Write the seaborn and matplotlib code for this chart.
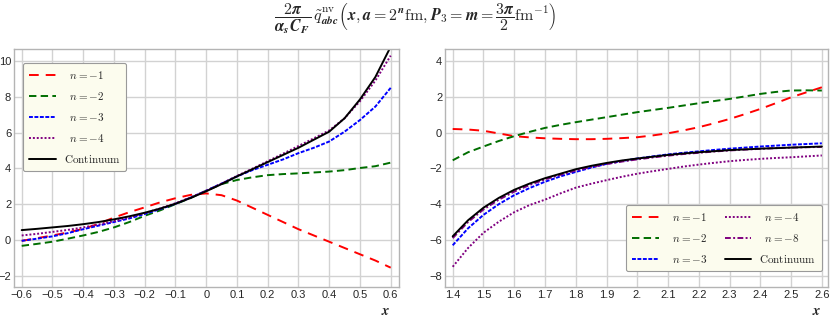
import numpy as np
import pandas as pd
import matplotlib
matplotlib.use("Agg")
import matplotlib.pyplot as plt
import seaborn as sns
from matplotlib.ticker import FuncFormatter

# --- data ---
x_left = [-0.6, -0.55, -0.5, -0.45, -0.4, -0.35, -0.3, -0.25, -0.2, -0.15, -0.1, -0.05,
          0.0, 0.05, 0.1, 0.15, 0.2, 0.25, 0.3, 0.35, 0.4, 0.45, 0.5, 0.55, 0.6]
left_n1 = [-0.05, 0.1, 0.25, 0.42, 0.62, 0.9, 1.25, 1.55, 1.82, 2.1, 2.33, 2.52,
           2.6, 2.5, 2.2, 1.8, 1.4, 1.0, 0.6, 0.25, -0.1, -0.45, -0.8, -1.15, -1.55]
left_n2 = [-0.33, -0.22, -0.1, 0.07, 0.25, 0.45, 0.7, 1.0, 1.35, 1.65, 2.0, 2.35,
           2.75, 3.12, 3.35, 3.5, 3.62, 3.68, 3.72, 3.77, 3.82, 3.9, 4.02, 4.12, 4.32]
left_n3 = [-0.05, 0.07, 0.2, 0.38, 0.6, 0.8, 1.0, 1.2, 1.45, 1.72, 2.02, 2.37,
           2.75, 3.15, 3.55, 3.9, 4.2, 4.5, 4.85, 5.15, 5.5, 6.05, 6.7, 7.45, 8.5]
left_n4 = [0.25, 0.34, 0.45, 0.56, 0.7, 0.86, 1.05, 1.26, 1.5, 1.76, 2.05, 2.38,
           2.75, 3.15, 3.58, 3.98, 4.4, 4.82, 5.25, 5.68, 6.12, 6.8, 7.75, 8.9, 10.3]
left_cont = [0.55, 0.62, 0.7, 0.78, 0.88, 1.0, 1.15, 1.32, 1.52, 1.75, 2.02, 2.35,
             2.72, 3.12, 3.55, 3.95, 4.35, 4.75, 5.15, 5.6, 6.05, 6.8, 7.85, 9.1, 10.8]

x_right = [1.4, 1.45, 1.5, 1.55, 1.6, 1.65, 1.7, 1.75, 1.8, 1.85, 1.9, 1.95, 2.0,
           2.05, 2.1, 2.15, 2.2, 2.25, 2.3, 2.35, 2.4, 2.45, 2.5, 2.55, 2.6]
right_n1 = [0.2, 0.17, 0.1, -0.05, -0.2, -0.27, -0.32, -0.35, -0.37, -0.37, -0.35, -0.31, -0.26,
            -0.16, -0.04, 0.12, 0.3, 0.52, 0.76, 1.03, 1.32, 1.64, 1.97, 2.25, 2.53]
right_n2 = [-1.55, -1.1, -0.78, -0.47, -0.2, 0.04, 0.26, 0.43, 0.58, 0.72, 0.86, 1.0, 1.14,
            1.26, 1.38, 1.51, 1.64, 1.76, 1.88, 2.02, 2.16, 2.27, 2.35, 2.36, 2.35]
right_n3 = [-6.3, -5.35, -4.6, -4.0, -3.5, -3.1, -2.75, -2.45, -2.2, -1.96, -1.75, -1.59, -1.45,
            -1.33, -1.22, -1.13, -1.05, -0.97, -0.9, -0.84, -0.78, -0.73, -0.68, -0.64, -0.6]
right_n4 = [-7.5, -6.45, -5.6, -4.98, -4.45, -4.05, -3.75, -3.4, -3.08, -2.86, -2.66, -2.47, -2.3,
            -2.16, -2.03, -1.9, -1.79, -1.69, -1.6, -1.53, -1.47, -1.42, -1.38, -1.33, -1.28]
right_n8 = [-5.9, -5.0, -4.3, -3.75, -3.3, -2.93, -2.62, -2.36, -2.12, -1.92, -1.76, -1.62, -1.5,
            -1.39, -1.29, -1.2, -1.13, -1.06, -1.0, -0.95, -0.91, -0.87, -0.84, -0.82, -0.8]
right_cont = [-5.8, -4.9, -4.2, -3.65, -3.2, -2.85, -2.55, -2.3, -2.05, -1.86, -1.7, -1.56, -1.45,
              -1.35, -1.25, -1.17, -1.1, -1.04, -0.98, -0.94, -0.9, -0.87, -0.84, -0.81, -0.78]

left_ticks = [-0.6, -0.5, -0.4, -0.3, -0.2, -0.1, 0.0, 0.1, 0.2, 0.3, 0.4, 0.5, 0.6]
right_ticks = [1.4, 1.5, 1.6, 1.7, 1.8, 1.9, 2.0, 2.1, 2.2, 2.3, 2.4, 2.5, 2.6]

sns.set_style("whitegrid")
plt.rcParams['font.family'] = ['Liberation Sans', 'DejaVu Sans']
plt.rcParams['mathtext.fontset'] = 'cm'

fig = plt.figure(figsize=(8.3, 3.2), dpi=100)
ax1 = fig.add_axes([14 / 830, 33 / 320, 385 / 830, 238 / 320])
ax2 = fig.add_axes([445 / 830, 33 / 320, 383 / 830, 238 / 320])

styles = {
    'n1': dict(color='#ff0000', linestyle=(0, (5, 3.6))),
    'n2': dict(color='#006e00', linestyle=(0, (3.8, 2.2))),
    'n3': dict(color='#0000ff', linestyle=(0, (2, 0.8))),
    'n4': dict(color='#800080', linestyle=(0, (1, 1))),
    'n8': dict(color='#800080', linestyle=(0, (3, 1.2, 1, 1.2))),
    'cont': dict(color='black', linestyle='-'),
}
lw = 1.4
pad = r'\;\;'

sns.lineplot(x=x_left, y=left_n1, ax=ax1, lw=lw, label=rf'${pad}n=-1$', **styles['n1'])
sns.lineplot(x=x_left, y=left_n2, ax=ax1, lw=lw, label=rf'${pad}n=-2$', **styles['n2'])
sns.lineplot(x=x_left, y=left_n3, ax=ax1, lw=lw, label=rf'${pad}n=-3$', **styles['n3'])
sns.lineplot(x=x_left, y=left_n4, ax=ax1, lw=lw, label=rf'${pad}n=-4$', **styles['n4'])
sns.lineplot(x=x_left, y=left_cont, ax=ax1, lw=lw, label=r'$\mathrm{Continuum}$', **styles['cont'])

sns.lineplot(x=x_right, y=right_n1, ax=ax2, lw=lw, label=rf'${pad}n=-1$', **styles['n1'])
sns.lineplot(x=x_right, y=right_n2, ax=ax2, lw=lw, label=rf'${pad}n=-2$', **styles['n2'])
sns.lineplot(x=x_right, y=right_n3, ax=ax2, lw=lw, label=rf'${pad}n=-3$', **styles['n3'])
sns.lineplot(x=x_right, y=right_n4, ax=ax2, lw=lw, label=rf'${pad}n=-4$', **styles['n4'])
sns.lineplot(x=x_right, y=right_n8, ax=ax2, lw=lw, label=rf'${pad}n=-8$', **styles['n8'])
sns.lineplot(x=x_right, y=right_cont, ax=ax2, lw=lw, label=r'$\mathrm{Continuum}$', **styles['cont'])

ax1.set_xlim(-0.625, 0.627)
ax1.set_ylim(-2.63, 10.67)
ax1.set_xticks(left_ticks)
ax1.set_yticks([-2, 0, 2, 4, 6, 8, 10])
ax1.xaxis.set_major_formatter(FuncFormatter(lambda v, p: '0' if abs(v) < 1e-9 else f'{v:.1f}'.replace('-', '\u2212')))

ax2.set_xlim(1.375, 2.62)
ax2.set_ylim(-8.63, 4.67)
ax2.set_xticks(right_ticks)
ax2.set_yticks([-8, -6, -4, -2, 0, 2, 4])
ax2.xaxis.set_major_formatter(FuncFormatter(lambda v, p: '2.' if abs(v - 2) < 1e-9 else f'{v:.1f}'))

for ax in (ax1, ax2):
    ax.set_xlabel('')
    ax.set_ylabel('')
    ax.grid(True, color='#d2d2d2', lw=1.0)
    for s in ax.spines.values():
        s.set_color('#b4b4b4')
        s.set_linewidth(1.0)
    ax.tick_params(direction='in', length=4, width=1, color='black', labelsize=8, pad=2)

fig.text(386 / 830, 9 / 320, r'$\boldsymbol{x}$', ha='center', va='center', fontsize=10.5)
fig.text(817 / 830, 9 / 320, r'$\boldsymbol{x}$', ha='center', va='center', fontsize=10.5)

leg_kw = dict(facecolor='#fcfcee', edgecolor='#9a9a9a', framealpha=1, fancybox=True,
              fontsize=8, handlelength=2.4, handletextpad=0.7, borderpad=0.55,
              labelspacing=0.8, borderaxespad=0)
l1 = ax1.legend(loc='upper left', bbox_to_anchor=(9 / 385, 1 - 14 / 238), **leg_kw)
l2 = ax2.legend(loc='lower right', bbox_to_anchor=(1 - 6 / 383, 16 / 238), ncol=2,
                columnspacing=1.6, **leg_kw)
for lg in (l1, l2):
    lg.get_frame().set_linewidth(0.8)

B = r'\boldsymbol'
title = (rf'$\dfrac{{{B}{{2\pi}}}}{{{B}{{\alpha}}_{{{B}{{s}}}}{B}{{C}}_{{{B}{{F}}}}}}\,'
         rf'{B}{{\tilde{{q}}}}^{{\rm nv}}_{{{B}{{abc}}}}'
         rf'\left({B}{{x}}, {B}{{a}}={B}{{2}}^{{{B}{{n}}}}{{\rm fm}}, '
         rf'{B}{{P}}_{{{B}{{3}}}}={B}{{m}}=\dfrac{{{B}{{3\pi}}}}{{{B}{{2}}}}{{\rm fm}}^{{-1}}\right)$')
fig.text(0.5, 0.995, title, ha='center', va='top', fontsize=11.5)

fig.savefig('out.png', dpi=100)
